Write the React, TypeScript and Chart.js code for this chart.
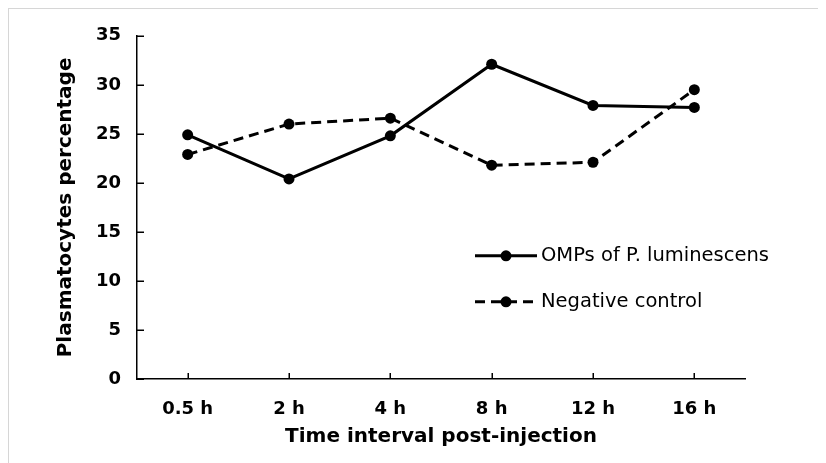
import React, { useEffect, useRef } from "react";
import { Chart, registerables } from "chart.js";

Chart.register(...registerables);

const categories = ["0.5 h", "2 h", "4 h", "8 h", "12 h", "16 h"];
const ompsValues = [24.9, 20.4, 24.8, 32.1, 27.9, 27.7];
const negativeValues = [22.9, 26.0, 26.6, 21.8, 22.1, 29.5];
const seriesLabels = ["OMPs of P. luminescens", "Negative control"];
const yTicks = [0, 5, 10, 15, 20, 25, 30, 35];
const xTitle = "Time interval post-injection";
const yTitle = "Plasmatocytes percentage";

const FONT = "'DejaVu Sans', Verdana, sans-serif";

const innerTicks = {
  id: "innerTicks",
  afterDatasetsDraw(chart: any) {
    const { ctx, chartArea } = chart;
    const xs = chart.scales.x;
    const ys = chart.scales.y;
    ctx.save();
    ctx.strokeStyle = "#000";
    ctx.lineWidth = 1.5;
    ctx.beginPath();
    yTicks.forEach((v) => {
      const py = Math.round(ys.getPixelForValue(v)) + 0.25;
      ctx.moveTo(chartArea.left, py);
      ctx.lineTo(chartArea.left + 7, py);
    });
    categories.forEach((_, i) => {
      const px = Math.round(xs.getPixelForValue(i)) + 0.25;
      ctx.moveTo(px, chartArea.bottom);
      ctx.lineTo(px, chartArea.bottom - 6);
    });
    ctx.stroke();
    ctx.restore();
  },
};

const insideLegend = {
  id: "insideLegend",
  afterDraw(chart: any) {
    const { ctx, chartArea } = chart;
    const x0 = chartArea.left + 338;
    const rows = [chartArea.top + 220, chartArea.top + 266];
    ctx.save();
    chart.data.datasets.forEach((ds: any, i: number) => {
      const y = rows[i];
      ctx.strokeStyle = ds.borderColor;
      ctx.lineWidth = ds.borderWidth;
      ctx.setLineDash(ds.borderDash || []);
      ctx.beginPath();
      ctx.moveTo(x0, y);
      ctx.lineTo(x0 + 62, y);
      ctx.stroke();
      ctx.setLineDash([]);
      ctx.fillStyle = ds.pointBackgroundColor;
      ctx.beginPath();
      ctx.arc(x0 + 31, y, ds.pointRadius, 0, Math.PI * 2);
      ctx.fill();
      ctx.fillStyle = "#000";
      ctx.font = `19.5px ${FONT}`;
      ctx.textBaseline = "middle";
      ctx.textAlign = "left";
      ctx.fillText(ds.label, x0 + 66, y);
    });
    ctx.restore();
  },
};

export default function App() {
  const ref = useRef<HTMLCanvasElement | null>(null);

  useEffect(() => {
    if (!ref.current) return;
    const chart = new Chart(ref.current, {
      type: "line",
      data: {
        labels: categories,
        datasets: [
          {
            label: seriesLabels[0],
            data: ompsValues,
            borderColor: "#000",
            backgroundColor: "#000",
            pointBackgroundColor: "#000",
            pointBorderColor: "#000",
            pointBorderWidth: 0,
            borderWidth: 3,
            pointRadius: 5.5,
            tension: 0,
            fill: false,
          },
          {
            label: seriesLabels[1],
            data: negativeValues,
            borderColor: "#000",
            backgroundColor: "#000",
            pointBackgroundColor: "#000",
            pointBorderColor: "#000",
            pointBorderWidth: 0,
            borderWidth: 3,
            borderDash: [10, 6],
            pointRadius: 5.5,
            tension: 0,
            fill: false,
          },
        ],
      },
      options: {
        responsive: false,
        animation: false,
        devicePixelRatio: 1,
        layout: { padding: { left: 0, top: 25, right: 81, bottom: 0 } },
        plugins: {
          legend: { display: false },
          tooltip: { enabled: false },
        },
        scales: {
          x: {
            offset: true,
            grid: { display: false, drawTicks: false },
            border: { display: true, color: "#000", width: 1.5 },
            ticks: {
              color: "#000",
              padding: 20,
              font: { family: FONT, size: 18, weight: "bold" },
            },
            title: {
              display: true,
              text: xTitle,
              color: "#000",
              font: { family: FONT, size: 20, weight: "bold" },
              padding: { top: 0, bottom: 14 },
            },
            afterFit(scale: any) {
              scale.height = 84;
            },
          },
          y: {
            min: 0,
            max: 35,
            afterBuildTicks(scale: any) {
              scale.ticks = yTicks.map((v) => ({ value: v }));
            },
            grid: { display: false, drawTicks: false },
            border: { display: true, color: "#000", width: 1.5 },
            ticks: {
              color: "#000",
              padding: 16,
              font: { family: FONT, size: 18, weight: "bold" },
            },
            title: {
              display: true,
              text: yTitle,
              color: "#000",
              font: { family: FONT, size: 20, weight: "bold" },
              padding: { top: 45, bottom: 0 },
            },
            afterFit(scale: any) {
              scale.width = 128;
            },
          },
        },
      },
      plugins: [innerTicks, insideLegend],
    });
    return () => chart.destroy();
  }, []);

  return (
    <div
      style={{
        width: 818,
        height: 455,
        borderTop: "1px solid #d6d6d6",
        borderLeft: "1px solid #d6d6d6",
        background: "#fff",
        boxSizing: "border-box",
      }}
    >
      <canvas ref={ref} width={817} height={454} style={{ display: "block" }} />
    </div>
  );
}
